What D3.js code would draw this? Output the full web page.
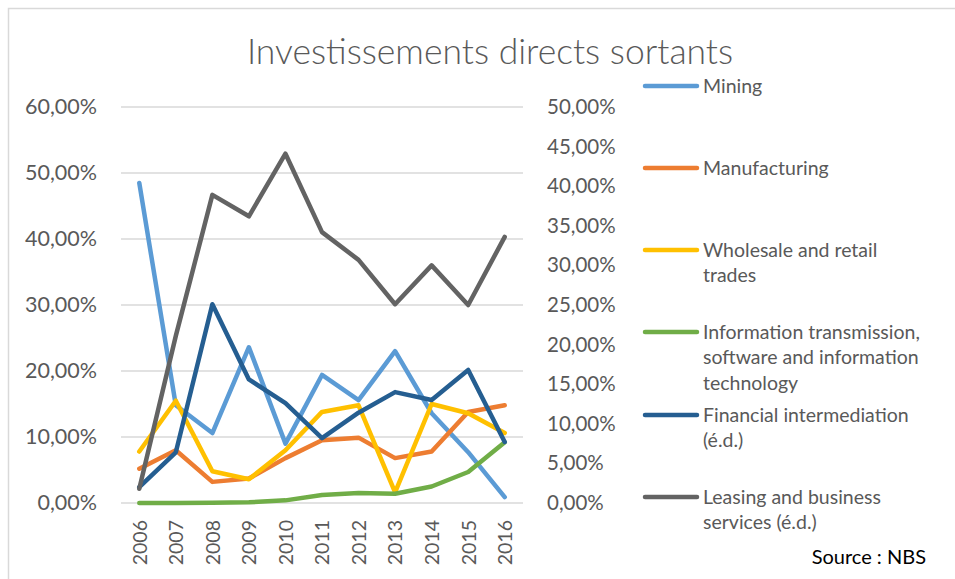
<!DOCTYPE html>
<html>
<head>
<meta charset="utf-8">
<script src="https://cdn.jsdelivr.net/npm/d3@7"></script>
<style>
  body { margin: 0; background: #fff; }
  svg { font-family: Lato, "Open Sans", sans-serif; }
</style>
</head>
<body>
<div id="chart"></div>
<script>
// values, in %
const years = ["2006", "2007", "2008", "2009", "2010", "2011", "2012", "2013", "2014", "2015", "2016"];
const mining = [48.5, 14.8, 10.6, 23.6, 9.0, 19.4, 15.6, 23.0, 13.6, 7.7, 0.9];
const manufacturing = [5.2, 8.0, 3.2, 3.7, 6.8, 9.5, 9.9, 6.8, 7.8, 13.8, 14.8];
const wholesale = [7.8, 15.5, 4.8, 3.6, 8.0, 13.8, 14.8, 1.6, 15.0, 13.6, 10.6];
const infoTech = [0.0, 0.0, 0.05, 0.1, 0.4, 1.2, 1.5, 1.4, 2.5, 4.7, 9.2];
// right axis (é.d.)
const financial = [2.0, 6.4, 25.1, 15.6, 12.6, 8.2, 11.4, 14.0, 13.0, 16.8, 7.7];
const leasing = [1.8, 21.1, 38.9, 36.2, 44.1, 34.2, 30.7, 25.1, 30.0, 25.0, 33.6];

const leftTicks = [0, 10, 20, 30, 40, 50, 60];
const rightTicks = [0, 5, 10, 15, 20, 25, 30, 35, 40, 45, 50];

const series = [
    { name: ["Mining"], values: mining, color: "#5B9BD5", axis: "left" },
    { name: ["Manufacturing"], values: manufacturing, color: "#ED7D31", axis: "left" },
    { name: ["Wholesale and retail", "trades"], values: wholesale, color: "#FFC000", axis: "left" },
    { name: ["Information transmission,", "software and information", "technology"], values: infoTech, color: "#70AD47", axis: "left" },
    { name: ["Financial intermediation", "(é.d.)"], values: financial, color: "#255E91", axis: "right" },
    { name: ["Leasing and business", "services (é.d.)"], values: leasing, color: "#636363", axis: "right" }
];

const width = 955;
const height = 579;
const plot = { left: 121, right: 523, top: 107, bottom: 503 };

const svg = d3.select("#chart")
    .append("svg")
    .attr("width", width)
    .attr("height", height);

// chart frame
svg.append("rect")
    .attr("x", 8.5).attr("y", 8.5)
    .attr("width", 960).attr("height", 600)
    .attr("fill", "#fff")
    .attr("stroke", "#D9D9D9")
    .attr("stroke-width", 1.5);

const x = d3.scalePoint()
    .domain(years)
    .range([plot.left, plot.right])
    .padding(0.5);

const yLeft = d3.scaleLinear().domain([0, 60]).range([plot.bottom, plot.top]);
const yRight = d3.scaleLinear().domain([0, 50]).range([plot.bottom, plot.top]);

const fmt = v => d3.format(".2f")(v).replace(".", ",") + "%";

// gridlines
svg.append("g")
    .selectAll("line")
    .data(leftTicks)
    .join("line")
    .attr("x1", plot.left).attr("x2", plot.right)
    .attr("y1", d => yLeft(d)).attr("y2", d => yLeft(d))
    .attr("stroke", "#D9D9D9")
    .attr("stroke-width", 1.5);

// left axis
const axL = svg.append("g")
    .attr("transform", `translate(${plot.left - 24},0)`)
    .call(d3.axisLeft(yLeft).tickValues(leftTicks).tickFormat(fmt).tickSize(0).tickPadding(0));
axL.select(".domain").remove();
axL.selectAll("text")
    .attr("fill", "#595959")
    .style("font-size", "21.5px")
    .style("font-family", "Lato, sans-serif");

// right axis
const axR = svg.append("g")
    .attr("transform", `translate(${plot.right + 24},0)`)
    .call(d3.axisRight(yRight).tickValues(rightTicks).tickFormat(fmt).tickSize(0).tickPadding(0));
axR.select(".domain").remove();
axR.selectAll("text")
    .attr("fill", "#595959")
    .style("font-size", "20.5px")
    .style("font-family", "Lato, sans-serif");

// x axis, rotated labels
const axX = svg.append("g")
    .attr("transform", `translate(0,${plot.bottom})`)
    .call(d3.axisBottom(x).tickSize(0).tickPadding(0));
axX.select(".domain").remove();
axX.selectAll("text")
    .attr("fill", "#595959")
    .style("font-size", "19.5px")
    .style("font-family", "Lato, sans-serif")
    .attr("transform", "rotate(-90)")
    .attr("text-anchor", "end")
    .attr("x", -17)
    .attr("y", 0)
    .attr("dy", "0.35em");

// lines
const lines = svg.append("g");
series.forEach(s => {
    const y = s.axis === "left" ? yLeft : yRight;
    const line = d3.line()
        .x((d, i) => x(years[i]))
        .y(d => y(d));
    lines.append("path")
        .datum(s.values)
        .attr("d", line)
        .attr("fill", "none")
        .attr("stroke", s.color)
        .attr("stroke-width", 4.5)
        .attr("stroke-linecap", "round")
        .attr("stroke-linejoin", "round");
});

// title
svg.append("text")
    .attr("x", 490)
    .attr("y", 64)
    .attr("text-anchor", "middle")
    .attr("fill", "#595959")
    .style("font-size", "35.5px")
    .style("font-weight", 300)
    .text("Investissements directs sortants");

// legend
const legendY = [86, 168, 250, 332, 415, 497];
const legend = svg.append("g");
series.forEach((s, i) => {
    const g = legend.append("g").attr("transform", `translate(0,${legendY[i]})`);
    g.append("line")
        .attr("x1", 645).attr("x2", 697)
        .attr("y1", 0).attr("y2", 0)
        .attr("stroke", s.color)
        .attr("stroke-width", 4.5)
        .attr("stroke-linecap", "round");
    g.append("text")
        .attr("x", 703)
        .attr("fill", "#595959")
        .style("font-size", "19.5px")
        .selectAll("tspan")
        .data(s.name)
        .join("tspan")
        .attr("x", 703)
        .attr("y", (d, j) => j * 25.5)
        .attr("dy", "0.35em")
        .text(d => d);
});

svg.append("text")
    .attr("x", 926)
    .attr("y", 564)
    .attr("text-anchor", "end")
    .attr("fill", "#000")
    .style("font-size", "20px")
    .text("Source : NBS");
</script>
</body>
</html>
